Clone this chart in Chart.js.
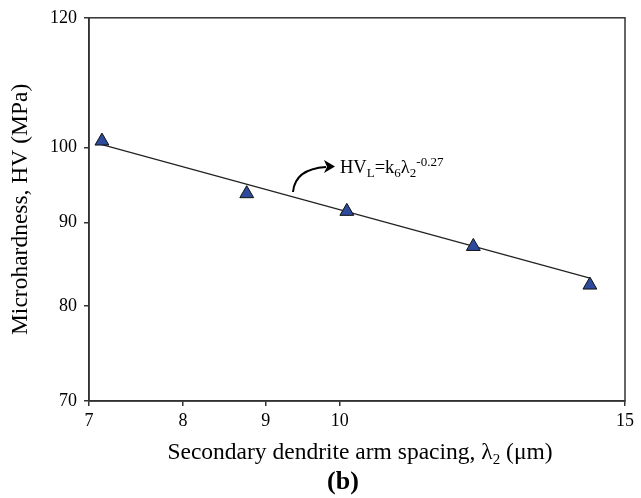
<!DOCTYPE html>
<html>
<head>
<meta charset="utf-8">
<script src="https://cdn.jsdelivr.net/npm/chart.js@4"></script>
<style>
  body { margin: 0; background: #fff; }
</style>
</head>
<body>
<canvas id="hvChart" width="641" height="498"></canvas>
<script>
// measured points (lambda2 in um, HV in MPa)
const spacing = [7.13, 8.76, 10.10, 12.09, 14.27];
const hardness = [100.9, 93.7, 91.4, 87.0, 82.4];
// fitted power-law line, end points
const fitSpacing = [7.13, 14.27];
const fitHardness = [100.4, 83.2];
const xTicks = [7, 8, 9, 10, 15];
const yTicks = [70, 80, 90, 100, 120];

const serif = "'Liberation Serif', 'Times New Roman', serif";
Chart.defaults.color = '#000';
Chart.defaults.font.family = serif;

const extras = {
  id: 'extras',
  afterDraw(chart) {
    const ctx = chart.ctx;
    const a = chart.chartArea;
    ctx.save();
    // box around the plot
    ctx.strokeStyle = '#333';
    ctx.lineWidth = 1.5;
    ctx.strokeRect(a.left, a.top, a.right - a.left, a.bottom - a.top);

    // equation label
    ctx.fillStyle = '#000';
    ctx.textBaseline = 'alphabetic';
    ctx.textAlign = 'left';
    let x = 340, y = 173;
    const put = (txt, size, dy) => {
      ctx.font = size + 'px ' + serif;
      ctx.fillText(txt, x, y + dy);
      x += ctx.measureText(txt).width;
    };
    put('HV', 18.5, 0);
    put('L', 13, 4);
    put('=k', 18.5, 0);
    put('6', 13, 4);
    put('\u03bb', 18.5, 0);
    put('2', 13, 4);
    put('-0.27', 13, -7);

    // curved arrow
    ctx.strokeStyle = '#000';
    ctx.lineWidth = 2;
    ctx.beginPath();
    ctx.moveTo(293, 192);
    ctx.quadraticCurveTo(295, 169, 326, 167);
    ctx.stroke();
    ctx.beginPath();
    ctx.moveTo(335, 166.5);
    ctx.lineTo(324, 160);
    ctx.lineTo(327, 166.8);
    ctx.lineTo(324, 173);
    ctx.closePath();
    ctx.fill();

    // x axis title with subscript
    const parts = [['Secondary dendrite arm spacing, \u03bb', 23.5, 0], ['2', 15, 5], [' (\u03bcm)', 23.5, 0]];
    let w = 0;
    parts.forEach(p => { ctx.font = p[1] + 'px ' + serif; w += ctx.measureText(p[0]).width; });
    x = (a.left + a.right) / 2 + 3 - w / 2;
    y = 459;
    parts.forEach(p => put(p[0], p[1], p[2]));

    // panel letter
    ctx.font = 'bold 26px ' + serif;
    ctx.textAlign = 'center';
    ctx.fillText('(b)', (a.left + a.right) / 2 - 14, 489);
    ctx.restore();
  }
};

new Chart(document.getElementById('hvChart'), {
  type: 'scatter',
  data: {
    datasets: [
      {
        data: spacing.map((v, i) => ({ x: v, y: hardness[i] })),
        pointStyle: 'triangle',
        pointRadius: 8,
        pointBackgroundColor: '#2d4a9c',
        pointBorderColor: '#111',
        pointBorderWidth: 1,
        showLine: false
      },
      {
        data: fitSpacing.map((v, i) => ({ x: v, y: fitHardness[i] })),
        showLine: true,
        borderColor: '#222',
        borderWidth: 1.2,
        pointRadius: 0
      }
    ]
  },
  plugins: [extras],
  options: {
    responsive: false,
    animation: false,
    layout: { padding: { left: 0, right: 16, top: 15, bottom: 31 } },
    plugins: { legend: { display: false }, tooltip: { enabled: false } },
    scales: {
      x: {
        type: 'logarithmic',
        min: 7,
        max: 15,
        afterBuildTicks: s => { s.ticks = xTicks.map(v => ({ value: v })); },
        afterFit: s => { s.height = 66; },
        ticks: {
          font: { size: 18 },
          padding: 4,
          maxRotation: 0,
          autoSkip: false,
          callback: v => String(v)
        },
        grid: { drawOnChartArea: false, tickLength: 5, color: '#333', lineWidth: 1.5 },
        border: { color: '#333', width: 1.5 }
      },
      y: {
        type: 'logarithmic',
        min: 70,
        max: 120,
        afterBuildTicks: s => { s.ticks = yTicks.map(v => ({ value: v })); },
        afterFit: s => { s.width = 89; },
        ticks: {
          font: { size: 18 },
          padding: 7,
          autoSkip: false,
          callback: v => String(v)
        },
        grid: { drawOnChartArea: false, tickLength: 5, color: '#333', lineWidth: 1.5 },
        border: { color: '#333', width: 1.5 },
        title: {
          display: true,
          text: 'Microhardness, HV (MPa)',
          font: { size: 23.5 },
          padding: { top: 7, bottom: 0 }
        }
      }
    }
  }
});
</script>
</body>
</html>
